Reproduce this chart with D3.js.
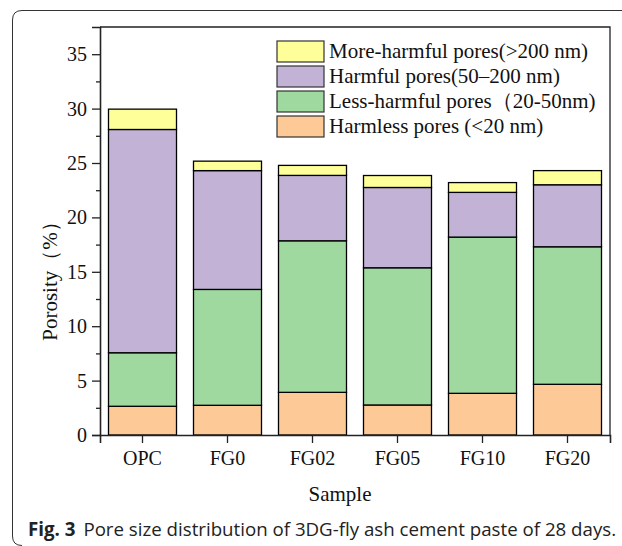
<!DOCTYPE html>
<html>
<head>
<meta charset="utf-8">
<script src="https://cdn.jsdelivr.net/npm/d3@7"></script>
<style>
  body { margin: 0; background: #fff; }
</style>
</head>
<body>
<div id="vis"></div>
<script>
const FRAME_WIDTH = 622;
const FRAME_HEIGHT = 546;
const MARGINS = {left: 100, right: 12, top: 27, bottom: 111};
const SERIF = "'Liberation Serif', 'Times New Roman', serif";

// data
const samples = ["OPC", "FG0", "FG02", "FG05", "FG10", "FG20"];
const seriesKeys = ["harmless", "less", "harmful", "more"];
const seriesNames = ["Harmless pores (<20 nm)", "Less-harmful pores（20-50nm)",
                     "Harmful pores(50–200 nm)", "More-harmful pores(>200 nm)"];
const seriesColors = ["#FDC997", "#9FD99F", "#C2B3D6", "#FFFF99"];
const harmless = [2.64, 2.73, 3.92, 2.76, 3.83, 4.66];
const lessHarmful = [4.92, 10.65, 13.93, 12.61, 14.36, 12.64];
const harmful = [20.52, 10.92, 6.01, 7.38, 4.11, 5.70];
const moreHarmful = [1.87, 0.87, 0.92, 1.10, 0.90, 1.30];
const yTicks = [0, 5, 10, 15, 20, 25, 30, 35];

const rows = samples.map((s, i) => ({
  sample: s, harmless: harmless[i], less: lessHarmful[i],
  harmful: harmful[i], more: moreHarmful[i]
}));

const VIS_LEFT = MARGINS.left;
const VIS_RIGHT = FRAME_WIDTH - MARGINS.right; // 610
const VIS_TOP = MARGINS.top;
const VIS_BOTTOM = 435;

const svg = d3.select("#vis")
  .append("svg")
    .attr("width", FRAME_WIDTH)
    .attr("height", FRAME_HEIGHT);

// figure border (rounded, open to the right)
svg.append("path")
  .attr("d", "M 640 10.5 L 22 10.5 Q 12.5 10.5 12.5 20 L 12.5 536 Q 12.5 545.5 22 545.5")
  .attr("fill", "none")
  .attr("stroke", "#333")
  .attr("stroke-width", 1);

const X_SCALE = d3.scaleBand()
  .domain(samples)
  .range([VIS_LEFT, VIS_RIGHT])
  .paddingInner(0.2)
  .paddingOuter(0.1);

const Y_SCALE = d3.scaleLinear()
  .domain([0, 37.5])
  .range([VIS_BOTTOM, VIS_TOP]);

const stacked = d3.stack().keys(seriesKeys)(rows);

// bars
svg.selectAll("g.layer")
  .data(stacked)
  .enter()
  .append("g")
    .attr("class", "layer")
    .attr("fill", (d, i) => seriesColors[i])
  .selectAll("rect")
  .data(d => d)
  .enter()
  .append("rect")
    .attr("x", d => X_SCALE(d.data.sample))
    .attr("y", d => Y_SCALE(d[1]))
    .attr("width", X_SCALE.bandwidth())
    .attr("height", d => Y_SCALE(d[0]) - Y_SCALE(d[1]))
    .attr("stroke", "#000")
    .attr("stroke-width", 1.3);

// frame top / right
svg.append("path")
  .attr("d", `M ${VIS_LEFT} ${VIS_TOP} H ${VIS_RIGHT} V ${VIS_BOTTOM}`)
  .attr("fill", "none")
  .attr("stroke", "#222")
  .attr("stroke-width", 1.3);

// y axis
svg.append("g")
  .attr("class", "axis")
  .attr("transform", `translate(${VIS_LEFT},0)`)
  .call(d3.axisLeft(Y_SCALE).tickValues(yTicks).tickSize(8).tickPadding(5));
svg.append("g")
  .attr("class", "axis")
  .attr("transform", `translate(${VIS_LEFT},0)`)
  .call(d3.axisLeft(Y_SCALE).tickValues(d3.range(2.5, 37.5, 5)).tickSize(4).tickFormat(""))
  .call(g => g.select(".domain").remove());

// x axis
svg.append("g")
  .attr("class", "axis")
  .attr("transform", `translate(0,${VIS_BOTTOM})`)
  .call(d3.axisBottom(X_SCALE).tickSize(8).tickPadding(8));

svg.selectAll("g.axis")
  .attr("font-family", SERIF)
  .attr("font-size", 20);
svg.selectAll(".tick line").attr("stroke", "#222").attr("stroke-width", 1.3);
svg.selectAll(".domain").attr("stroke", "#222").attr("stroke-width", 1.6);
svg.selectAll(".tick text").attr("fill", "#111");

// axis titles
svg.append("text")
  .attr("font-family", SERIF)
  .attr("x", 340)
  .attr("y", 501)
  .attr("text-anchor", "middle")
  .attr("font-size", 21)
  .attr("fill", "#111")
  .text("Sample");

svg.append("text")
  .attr("font-family", SERIF)
  .attr("transform", "translate(57,276) rotate(-90)")
  .attr("text-anchor", "middle")
  .attr("font-size", 21)
  .attr("fill", "#111")
  .text("Porosity（%）");

// legend, top entry is the top layer
const legendOrder = [3, 2, 1, 0];
const legend = svg.selectAll("g.legend")
  .data(legendOrder)
  .enter()
  .append("g")
    .attr("class", "legend")
    .attr("transform", (d, i) => `translate(277,${41 + i * 25})`);

legend.append("rect")
  .attr("width", 47)
  .attr("height", 21)
  .attr("fill", d => seriesColors[d])
  .attr("stroke", "#333")
  .attr("stroke-width", 1.2);

legend.append("text")
  .attr("font-family", SERIF)
  .attr("x", 52)
  .attr("y", 17)
  .attr("font-size", 21)
  .attr("fill", "#111")
  .text(d => seriesNames[d]);

// caption
const cap = svg.append("text")
  .attr("x", 28)
  .attr("y", 536)
  .attr("font-family", "'Open Sans', 'Noto Sans', sans-serif")
  .attr("font-size", 18.7)
  .attr("fill", "#222");
cap.append("tspan").attr("font-weight", "bold").text("Fig. 3");
cap.append("tspan").attr("dx", 8).text("Pore size distribution of 3DG-fly ash cement paste of 28 days.");
</script>
</body>
</html>
